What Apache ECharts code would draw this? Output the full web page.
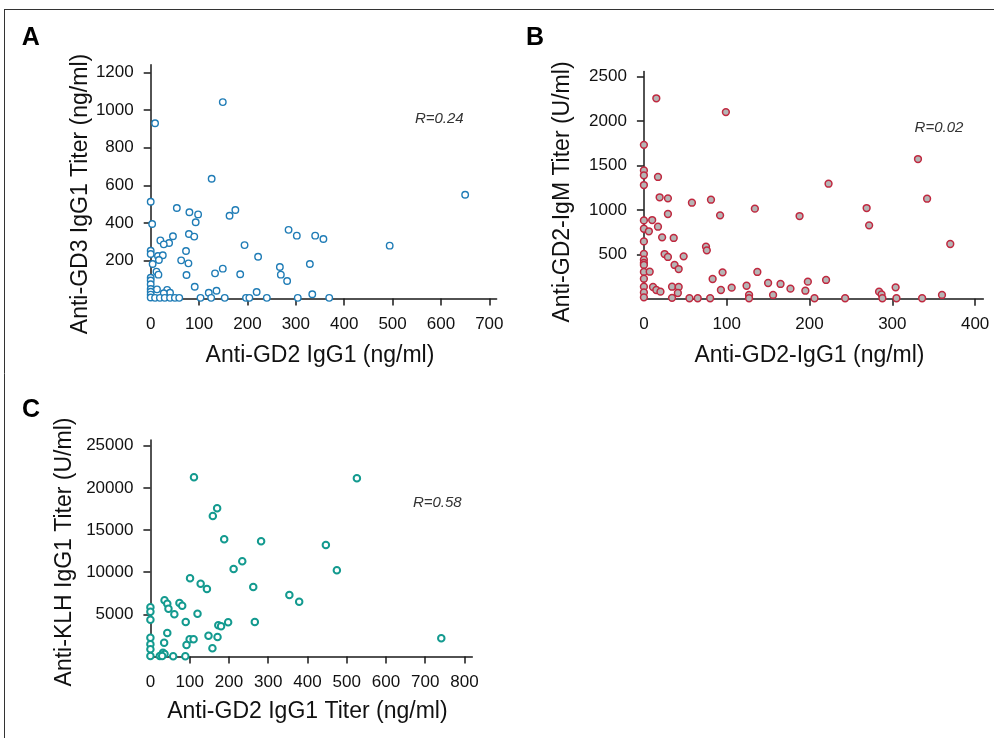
<!DOCTYPE html>
<html>
<head>
<meta charset="utf-8">
<script src="https://cdn.jsdelivr.net/npm/echarts@6/dist/echarts.min.js"></script>
<style>html,body{margin:0;padding:0;background:#fff}#c{width:994px;height:738px}</style>
</head>
<body>
<div id="c"></div>
<script>
// Panel A: Anti-GD2 IgG1 (x) vs Anti-GD3 IgG1 (y)
const xA = [9,149,126,0,3,54,80,98,93,163,175,79,90,46,38,20,27,194,285,0,0,15,25,17,4,73,63,78,222,12,16,74,133,149,185,267,269,282,0,0,0,0,0,0,0,13,34,40,27,91,120,136,219,302,340,357,329,494,650,334,
  9,19,29,40,50,59,103,125,153,197,204,240,304,369];
const yA = [930,1042,635,513,395,480,457,446,404,439,469,342,328,330,294,308,287,283,364,253,236,225,229,204,183,252,202,186,221,142,126,124,133,158,128,167,126,92,110,95,75,50,35,20,5,48,45,30,27,62,30,41,34,333,333,315,183,280,550,22,
  3,3,3,3,3,3,3,3,3,3,3,3,3,3];
// Panel B: Anti-GD2-IgG1 (x) vs Anti-GD2-IgM (y)
const xB = [15,99,0,0,0,17,0,19,29,58,81,134,29,92,0,10,17,0,6,22,36,0,75,76,0,25,29,48,0,0,0,37,42,0,7,95,137,83,0,150,165,0,11,15,20,34,42,41,106,93,124,127,127,156,0,0,34,55,65,80,
  331,223,342,188,269,272,370,177,198,195,220,206,243,284,287,288,304,305,336,360];
const yB = [2257,2102,1733,1445,1390,1371,1280,1142,1130,1081,1115,1014,954,939,882,886,811,788,759,691,684,645,586,545,505,503,470,477,440,402,380,380,334,302,304,297,301,222,225,177,166,135,132,98,79,135,132,64,124,98,146,42,5,42,70,15,10,5,5,5,
  1573,1295,1126,931,1021,826,616,113,192,90,211,5,5,79,49,5,128,5,5,42];
// Panel C: Anti-GD2 IgG1 Titer (x) vs Anti-KLH IgG1 (y)
const xC = [111,170,159,188,282,234,212,101,128,144,262,354,36,43,74,81,46,61,120,0,0,0,90,173,180,198,266,43,0,0,0,0,35,100,110,92,148,171,158,32,36,24,30,58,89,526,447,475,379,741];
const yC = [21260,17580,16670,13900,13670,11290,10380,9280,8640,8000,8240,7300,6670,6260,6350,6030,5670,5000,5080,5840,5320,4370,4090,3700,3600,4060,4090,2790,2230,1450,850,60,1640,2040,2040,1360,2470,2310,970,450,300,60,60,30,30,21140,13230,10230,6500,2160];

const ticksXA = [100,200,300,400,500,600,700];
const labelsXA = [0,100,200,300,400,500,600,700];
const ticksYA = [200,400,600,800,1000,1200];
const ticksXB = [100,200,300,400];
const labelsXB = [0,100,200,300,400];
const ticksYB = [500,1000,1500,2000,2500];
const ticksXC = [100,200,300,400,500,600,700,800];
const labelsXC = [0,100,200,300,400,500,600,700,800];
const ticksYC = [5000,10000,15000,20000,25000];

const zip = (a, b) => a.map((v, i) => [v, b[i]]);
const FONT = '"Liberation Sans", Arial, Helvetica, sans-serif';
const AX = '#1a1a1a';
const plain = v => String(v);

function xAxis(grid, max, ticks, labels) {
  return {
    type: 'value', gridIndex: grid, min: 0, max: max,
    splitLine: {show: false},
    axisLine: {show: true, onZero: false, lineStyle: {color: AX, width: 1.5}},
    axisTick: {show: true, length: 7, customValues: ticks, lineStyle: {color: AX, width: 1.5}},
    axisLabel: {customValues: labels, formatter: plain, margin: 17, fontSize: 17, fontFamily: FONT, color: '#111'}
  };
}
function yAxis(grid, max, ticks) {
  return {
    type: 'value', gridIndex: grid, min: 0, max: max,
    splitLine: {show: false},
    axisLine: {show: true, onZero: false, lineStyle: {color: AX, width: 1.5}},
    axisTick: {show: true, length: 7, customValues: ticks, lineStyle: {color: AX, width: 1.5}},
    axisLabel: {customValues: ticks, formatter: plain, margin: 17, fontSize: 17, fontFamily: FONT, color: '#111'}
  };
}
function txt(x, y, s, size, opts) {
  opts = opts || {};
  return {
    type: 'text', x: x, y: y, rotation: opts.rot || 0, silent: true,
    style: {
      text: s, fontSize: size, fontFamily: opts.family || FONT,
      fontWeight: opts.weight || 'normal', fontStyle: opts.style || 'normal',
      fill: opts.color || '#111',
      align: 'center', verticalAlign: 'middle',
      textAlign: 'center', textVerticalAlign: 'middle'
    }
  };
}

const chart = echarts.init(document.getElementById('c'), null, {renderer: 'canvas'});
chart.setOption({
  backgroundColor: '#fff',
  animation: false,
  grid: [
    {left: 150.7, top: 64.8, width: 345.9, height: 233.6, outerBoundsMode: 'none'},
    {left: 643.9, top: 71.4, width: 339.5, height: 227.3, outerBoundsMode: 'none'},
    {left: 150.4, top: 439.9, width: 321.9, height: 216.6, outerBoundsMode: 'none'}
  ],
  xAxis: [
    xAxis(0, 715, ticksXA, labelsXA),
    xAxis(1, 410, ticksXB, labelsXB),
    xAxis(2, 820, ticksXC, labelsXC)
  ],
  yAxis: [
    yAxis(0, 1240, ticksYA),
    yAxis(1, 2560, ticksYB),
    yAxis(2, 25700, ticksYC)
  ],
  series: [
    {type: 'scatter', xAxisIndex: 0, yAxisIndex: 0, data: zip(xA, yA), clip: false,
     symbol: 'circle', symbolSize: 6.5,
     itemStyle: {color: '#ffffff', borderColor: '#1f7cb6', borderWidth: 1.4, opacity: 1}},
    {type: 'scatter', xAxisIndex: 1, yAxisIndex: 1, data: zip(xB, yB), clip: false,
     symbol: 'circle', symbolSize: 6.8,
     itemStyle: {color: '#b5b5b5', borderColor: '#c0283f', borderWidth: 1.5, opacity: 1}},
    {type: 'scatter', xAxisIndex: 2, yAxisIndex: 2, data: zip(xC, yC), clip: false,
     symbol: 'circle', symbolSize: 6.5,
     itemStyle: {color: '#ffffff', borderColor: '#139a8f', borderWidth: 2, opacity: 1}}
  ],
  graphic: [
    {type: 'line', silent: true, shape: {x1: 4, y1: 9.5, x2: 994, y2: 9.5}, style: {stroke: '#333', lineWidth: 1}},
    {type: 'line', silent: true, shape: {x1: 4.5, y1: 9, x2: 4.5, y2: 738}, style: {stroke: '#333', lineWidth: 1}},
    txt(30.8, 38.3, 'A', 25, {weight: 'bold', color: '#000'}),
    txt(535, 38.5, 'B', 25, {weight: 'bold', color: '#000'}),
    txt(31, 410, 'C', 25, {weight: 'bold', color: '#000'}),
    txt(320, 355.3, 'Anti-GD2 IgG1 (ng/ml)', 23),
    txt(809.5, 355.3, 'Anti-GD2-IgG1 (ng/ml)', 23),
    txt(307.4, 712, 'Anti-GD2 IgG1 Titer (ng/ml)', 23),
    txt(80.5, 194, 'Anti-GD3 IgG1 Titer (ng/ml)', 23, {rot: Math.PI / 2}),
    txt(562.2, 192, 'Anti-GD2-IgM Titer (U/ml)', 23, {rot: Math.PI / 2}),
    txt(65, 552, 'Anti-KLH IgG1 Titer (U/ml)', 23, {rot: Math.PI / 2}),
    txt(439.3, 119.3, 'R=0.24', 15, {style: 'italic', color: '#333'}),
    txt(939, 127.7, 'R=0.02', 15, {style: 'italic', color: '#333'}),
    txt(437.3, 502.7, 'R=0.58', 15, {style: 'italic', color: '#333'})
  ]
});
</script>
</body>
</html>
